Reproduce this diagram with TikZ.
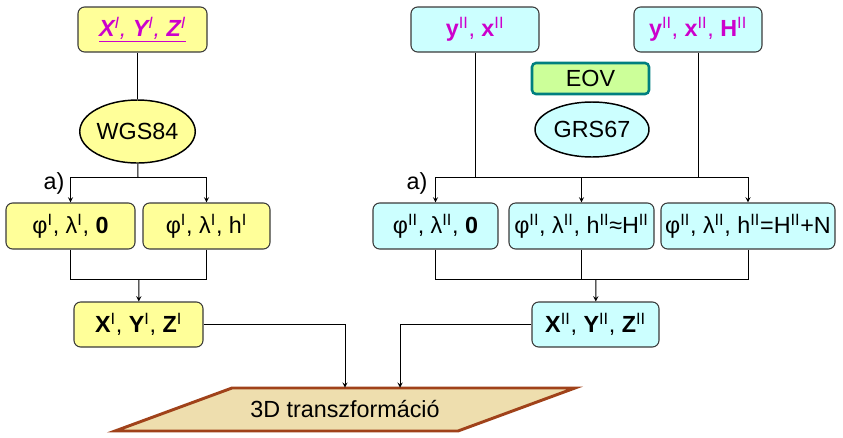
\documentclass[tikz,border=0pt]{standalone}
\usepackage{fontspec}
\setmainfont{Liberation Sans}
\usepackage{xcolor}
\usetikzlibrary{arrows,shapes.geometric}
\definecolor{ylw}{HTML}{FFFF99}
\definecolor{cyn}{HTML}{CCFFFF}
\definecolor{grn}{HTML}{CCFF99}
\definecolor{eovln}{HTML}{007F7F}
\definecolor{mag}{HTML}{CC00CC}
\definecolor{edge}{HTML}{3A3A3A}
\definecolor{tan}{HTML}{EEDEAE}
\definecolor{tanln}{HTML}{A0421A}
\newcommand{\sI}{\textsuperscript{\mdseries I}}
\newcommand{\sII}{\textsuperscript{\mdseries II}}
\tikzset{
  every node/.style={font=\fontsize{17.5}{21}\selectfont},
  box/.style={draw=edge,line width=0.8pt,rounded corners=5pt,inner sep=0pt,
              minimum height=33.75pt},
  ybox/.style={box,fill=ylw},
  cbox/.style={box,fill=cyn},
  ell/.style={ellipse,draw=black,line width=1.1pt,inner sep=0pt},
  eov/.style={box,fill=grn,draw=eovln,line width=1.9pt,rounded corners=3pt},
  para/.style={fill=tan,draw=tanln,line width=2.2pt,line join=miter},
  ln/.style={draw=black,line width=0.75pt},
  ar/.style={->,>=stealth,draw=black,line width=0.75pt},
  lab/.style={inner sep=0pt},
}

\begin{document}
\begin{tikzpicture}[x=0.75pt,y=-0.75pt]
\useasboundingbox (0,0) rectangle (843,437);

% ---- left: WGS84 ----
\node[ybox,minimum width=96.75pt] (xyz0) at (142.5,29.5)
  {\color{mag}\itshape\underline{\textbf{X}\sI, \textbf{Y}\sI, \textbf{Z}\sI}};
\node[ell,fill=ylw,minimum width=83.25pt,minimum height=47.25pt] (wgs) at (137.5,131.5) {WGS84};
\node[ybox,minimum width=96.75pt,minimum height=34.5pt] (l1) at (70.5,226) {φ\sI, λ\sI, \textbf{0}};
\node[ybox,minimum width=95.25pt,minimum height=34.5pt] (l2) at (206.5,226) {φ\sI, λ\sI, h\sI};
\node[ybox,minimum width=96.75pt] (xyz1) at (138.5,324.5) {\textbf{X}\sI, \textbf{Y}\sI, \textbf{Z}\sI};
\node[lab] (aL) at (54,183) {a)};

\coordinate (lsplit) at (138,177);
\coordinate (lmerge) at (139,279);
\draw[ln] (wgs.north) -- (wgs.north |- xyz0.south);
\draw[ln] (wgs) -- (lsplit);
\draw[ar] (lsplit) -| (l1);
\draw[ar] (lsplit) -| (l2);
\draw[ln] (l1) |- (lmerge);
\draw[ln] (l2) |- (lmerge);
\draw[ar] (lmerge) -- (xyz1);

% ---- right: EOV / GRS67 ----
\node[cbox,minimum width=96pt] (yx) at (475,29.5) {\color{mag}\textbf{y}\sII, \textbf{x}\sII};
\node[cbox,minimum width=96pt] (yxh) at (698,29.5) {\color{mag}\textbf{y}\sII, \textbf{x}\sII, \textbf{H}\sII};
\node[eov,minimum width=87.75pt,minimum height=23.25pt] (eov) at (590.5,78.5) {EOV};
\node[ell,fill=cyn,minimum width=85.5pt,minimum height=41.25pt] (grs) at (592,129.5) {GRS67};
\node[cbox,minimum width=93.75pt,minimum height=34.5pt] (r1) at (435.5,226) {φ\sII, λ\sII, \textbf{0}};
\node[cbox,minimum width=108.75pt,minimum height=34.5pt] (r2) at (581.5,226) {φ\sII, λ\sII, h\sII≈H\sII};
\node[cbox,minimum width=130.5pt,minimum height=34.5pt] (r3) at (748,226) {φ\sII, λ\sII, h\sII=H\sII+N};
\node[cbox,minimum width=95.25pt] (xyz2) at (595.5,324.5) {\textbf{X}\sII, \textbf{Y}\sII, \textbf{Z}\sII};
\node[lab] (aR) at (417,183) {a)};

\coordinate (rsplit) at (475,177);
\coordinate (rsplit2) at (698,177);
\coordinate (rmerge) at (596,279);
\draw[ln] (yx) -- (rsplit);
\draw[ln] (yxh) -- (rsplit2);
\draw[ar] (rsplit) -| (r1);
\draw[ar] (rsplit) -| (r2);
\draw[ar] (rsplit) -| (r3);
\draw[ln] (r1) |- (rmerge);
\draw[ln] (r3) |- (rmerge);
\draw[ln] (r2) -- (r2 |- rmerge);
\draw[ar] (rmerge) -- (xyz2);

% ---- 3D transformation ----
\filldraw[para] (115,431) -- (232,388) -- (575,388) -- (458,431) -- cycle;
\node[inner sep=0pt,minimum height=32.25pt] (tr) at (345,409.5) {3D transzformáció};
\draw[ar] (xyz1) -| (tr.north);
\draw[ar] (xyz2) -| ([xshift=41.25pt]tr.north);

\end{tikzpicture}
\end{document}
